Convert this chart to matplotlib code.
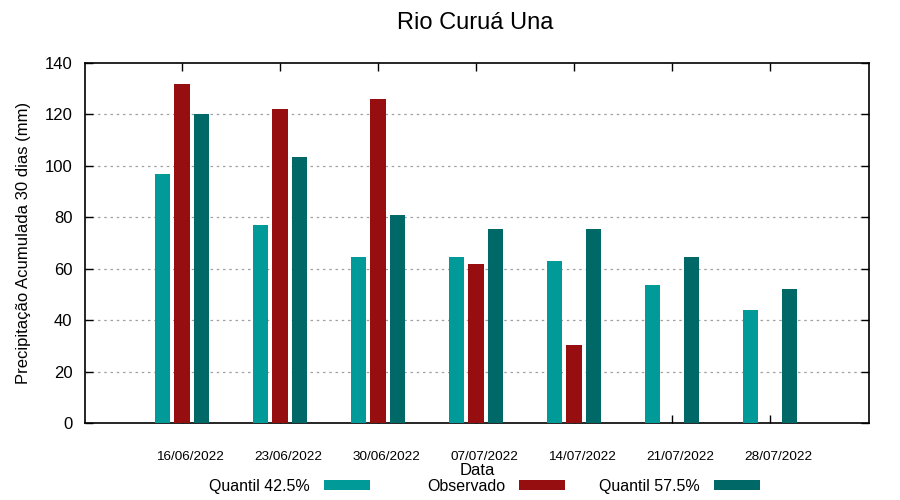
import matplotlib
matplotlib.use("Agg")
import matplotlib.pyplot as plt
import numpy as np

plt.rcParams['font.family'] = ['Liberation Sans', 'DejaVu Sans']

datas = ["16/06/2022", "23/06/2022", "30/06/2022", "07/07/2022",
         "14/07/2022", "21/07/2022", "28/07/2022"]
quantil_425 = [97, 77, 64.6, 64.6, 63, 53.7, 44]
observado = [132, 122, 126, 61.8, 30.3, np.nan, np.nan]
quantil_575 = [120.2, 103.5, 81, 75.5, 75.5, 64.6, 52.1]
yticks = [0, 20, 40, 60, 80, 100, 120, 140]

c1 = "#009a98"
c2 = "#960e10"
c3 = "#006866"

fig = plt.figure(figsize=(9, 5), dpi=100)
ax = fig.add_axes([85/900, 77/500, 784/900, 360/500])

x = np.arange(len(datas))
w = 0.16
off = 0.2
b1 = ax.bar(x - off, quantil_425, width=w, color=c1, label="Quantil 42.5%", zorder=3)
b2 = ax.bar(x, observado, width=w, color=c2, label="Observado", zorder=3)
b3 = ax.bar(x + off, quantil_575, width=w, color=c3, label="Quantil 57.5%", zorder=3)

ax.set_xlim(-0.99, 7.01)
ax.set_ylim(0, 140)
ax.set_yticks(yticks)
for t in ax.get_yticklabels():
    t.set_fontsize(12)

# tick marks at group centres, labels slightly shifted right (as in the reference)
ax.set_xticks(x)
ax.set_xticklabels([])
ax.set_xticks(x + 0.082, minor=True)
ax.set_xticklabels(datas, minor=True, fontsize=9.7)
ax.tick_params(axis='x', which='minor', length=0, pad=20)

ax.tick_params(axis='x', which='major', direction='in', top=True, bottom=True, length=6, width=1)
ax.tick_params(axis='y', direction='in', left=True, right=True, length=6, pad=9, width=1)

for yv in yticks[1:-1]:
    ax.axhline(yv, color="#a0a0a0", linestyle=(0, (2, 3)), linewidth=0.9, zorder=1)

for s in ax.spines.values():
    s.set_linewidth(1.2)
    s.set_color("black")

ax.set_xlabel("Data", fontsize=12, labelpad=0)
ax.set_ylabel("Precipitação Acumulada 30 dias (mm)", fontsize=12, labelpad=10)
fig.text(475/900, 1 - 23/500, "Rio Curuá Una", fontsize=17, ha='center', va='center')

yl = 1 - 494/500
for handle, label, xr in [(b1, "Quantil 42.5%", 370), (b2, "Observado", 565), (b3, "Quantil 57.5%", 760)]:
    fig.legend([handle], [label], loc='lower right', bbox_to_anchor=(xr/900, yl),
               markerfirst=False, frameon=False, fontsize=11.5,
               handlelength=2.9, handleheight=0.6, handletextpad=0.85,
               borderpad=0, borderaxespad=0)

fig.savefig("out.png", dpi=100)
